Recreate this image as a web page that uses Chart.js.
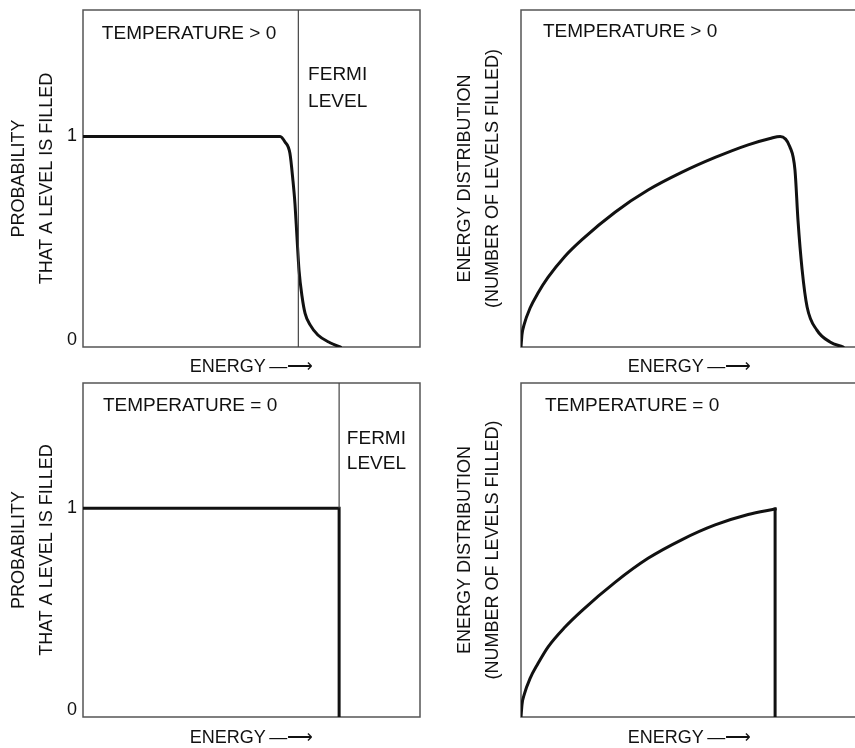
<!DOCTYPE html>
<html>
<head>
<meta charset="utf-8">
<script src="https://cdn.jsdelivr.net/npm/chart.js@4/dist/chart.umd.min.js"></script>
<style>
  html, body { margin: 0; padding: 0; background: #fff; width: 855px; height: 748px; overflow: hidden; position: relative; }
  canvas { position: absolute; }
</style>
</head>
<body>
<canvas id="tl" width="430" height="380" style="left:0;top:0"></canvas>
<canvas id="tr" width="430" height="380" style="left:430px;top:0"></canvas>
<canvas id="bl" width="430" height="375" style="left:0;top:373px"></canvas>
<canvas id="br" width="430" height="375" style="left:430px;top:373px"></canvas>
<script>
// ---------------- data ----------------
// Top-left: probability that a level is filled, temperature > 0
const tlEnergy = [0, 5.85, 5.99, 6.14, 6.23, 6.29, 6.35, 6.41, 6.50, 6.59, 6.74, 6.97, 7.33, 7.63];
const tlProb   = [1, 1, 0.975, 0.92, 0.79, 0.68, 0.52, 0.365, 0.24, 0.16, 0.105, 0.057, 0.02, 0];
const tlFermi  = 6.39;

// Top-right: energy distribution, temperature > 0
const trEnergy = [0, 0.03, 0.09, 0.27, 0.5, 0.80, 1.30, 1.81, 2.79, 3.77, 4.78, 5.76, 6.74, 7.39, 7.69, 7.98, 8.13, 8.22, 8.34, 8.49, 8.78, 9.17, 9.55];
const trLevels = [0, 0.06, 0.105, 0.185, 0.255, 0.33, 0.43, 0.51, 0.64, 0.745, 0.83, 0.90, 0.96, 0.99, 1.0, 0.95, 0.84, 0.60, 0.37, 0.19, 0.08, 0.024, 0];

// Bottom-left: probability, temperature = 0 (step)
const blEnergy = [0, 7.6, 7.6];
const blProb   = [1, 1, 0];
const blFermi  = 7.6;

// Bottom-right: energy distribution, temperature = 0
const brEnergy = [0, 0.03, 0.09, 0.27, 0.5, 0.80, 1.30, 1.81, 2.79, 3.77, 4.78, 5.76, 6.74, 7.54];
const brLevels = [0, 0.06, 0.105, 0.185, 0.255, 0.335, 0.43, 0.51, 0.645, 0.76, 0.85, 0.92, 0.97, 0.996];
const brDropEnergy = [7.54, 7.54];
const brDropLevels = [0.996, 0];

// axis ticks and labels
const probTicks = [0, 1];
const energyRange = [0, 10];
const valueRange = [0, 1.6];
const xTitle = 'ENERGY\u2009\u2014\u27F6';
const probTitle = ['PROBABILITY', 'THAT A LEVEL IS FILLED'];
const distTitle = ['ENERGY DISTRIBUTION', '(NUMBER OF LEVELS FILLED)'];

// ---------------- helpers ----------------
const FONT = "'Liberation Sans', Arial, Helvetica, sans-serif";
const INK = '#111';
const pts = (xs, ys) => xs.map((x, i) => ({ x, y: ys[i] }));

const framePlugin = {
  id: 'frame',
  beforeDatasetsDraw(chart) {
    const { ctx, chartArea: a } = chart;
    ctx.save();
    ctx.strokeStyle = '#555';
    ctx.lineWidth = 1.5;
    ctx.strokeRect(a.left, a.top, a.right - a.left, a.bottom - a.top);
    ctx.restore();
  }
};
const notesPlugin = {
  id: 'notes',
  afterDatasetsDraw(chart, args, opts) {
    const { ctx, scales: { x, y } } = chart;
    ctx.save();
    ctx.font = '19px ' + FONT;
    ctx.fillStyle = INK;
    ctx.textAlign = 'left';
    ctx.textBaseline = 'alphabetic';
    (opts.items || []).forEach(it => ctx.fillText(it.text, x.getPixelForValue(it.x), y.getPixelForValue(it.y)));
    ctx.restore();
  }
};

function curve(data, mono) {
  return {
    data, borderColor: INK, borderWidth: 3, pointRadius: 0,
    cubicInterpolationMode: mono ? 'monotone' : 'default', tension: 0,
    borderJoinStyle: 'miter', borderCapStyle: 'square', fill: false
  };
}
function fermi(data) {
  return { data, borderColor: '#444', borderWidth: 1.2, pointRadius: 0, tension: 0, fill: false };
}

function makeChart(id, o) {
  return new Chart(document.getElementById(id), {
    type: 'line',
    data: { datasets: o.datasets },
    plugins: [framePlugin, notesPlugin],
    options: {
      responsive: false, animation: false, devicePixelRatio: 1,
      layout: { padding: o.padding },
      plugins: { legend: { display: false }, tooltip: { enabled: false }, notes: { items: o.notes } },
      scales: {
        x: {
          type: 'linear', min: energyRange[0], max: energyRange[1],
          grid: { display: false, drawTicks: false }, border: { display: false },
          ticks: { display: false },
          title: { display: true, text: xTitle, color: INK, font: { family: FONT, size: 18, lineHeight: 1.1 }, padding: { top: 0, bottom: o.xPadBottom } },
          afterFit: s => { s.height = o.xHeight; s.paddingLeft = 0; s.paddingRight = 0; }
        },
        y: {
          type: 'linear', min: valueRange[0], max: valueRange[1],
          grid: { display: false, drawTicks: false }, border: { display: false },
          afterBuildTicks: s => { s.ticks = probTicks.map(v => ({ value: v })); },
          ticks: {
            display: o.showTicks, color: INK, padding: 6,
            font: { family: FONT, size: 18, lineHeight: '14px' },
            callback: v => (v === 0 ? ['0', ''] : String(v))
          },
          title: { display: true, text: o.yTitle, color: INK, font: { family: FONT, size: 18, lineHeight: '28px' }, padding: { top: o.yPadTop, bottom: 0 } },
          afterFit: s => { s.width = o.yWidth; s.paddingTop = 0; s.paddingBottom = 0; }
        }
      }
    }
  });
}

// ---------------- the four panels ----------------
makeChart('tl', {
  datasets: [fermi(pts([tlFermi, tlFermi], valueRange)), curve(pts(tlEnergy, tlProb), true)],
  notes: [
    { text: 'TEMPERATURE > 0', x: 0.56, y: 1.46 },
    { text: 'FERMI', x: 6.68, y: 1.27 },
    { text: 'LEVEL', x: 6.68, y: 1.14 }
  ],
  padding: { left: 0, top: 10, right: 10, bottom: 0 },
  yTitle: probTitle, showTicks: true, yWidth: 83, yPadTop: 5, xHeight: 33, xPadBottom: 3
});

makeChart('tr', {
  datasets: [curve(pts(trEnergy, trLevels), true)],
  notes: [{ text: 'TEMPERATURE > 0', x: 0.65, y: 1.47 }],
  padding: { left: 0, top: 10, right: 2, bottom: 0 },
  yTitle: distTitle, showTicks: false, yWidth: 91, yPadTop: 21, xHeight: 33, xPadBottom: 3
});

makeChart('bl', {
  datasets: [fermi(pts([blFermi, blFermi], [1, valueRange[1]])), curve(pts(blEnergy, blProb), false)],
  notes: [
    { text: 'TEMPERATURE = 0', x: 0.59, y: 1.466 },
    { text: 'FERMI', x: 7.83, y: 1.31 },
    { text: 'LEVEL', x: 7.83, y: 1.19 }
  ],
  padding: { left: 0, top: 10, right: 10, bottom: 0 },
  yTitle: probTitle, showTicks: true, yWidth: 83, yPadTop: 5, xHeight: 31, xPadBottom: 0
});

makeChart('br', {
  datasets: [curve(pts(brEnergy, brLevels), true), curve(pts(brDropEnergy, brDropLevels), false)],
  notes: [{ text: 'TEMPERATURE = 0', x: 0.71, y: 1.466 }],
  padding: { left: 0, top: 10, right: 2, bottom: 0 },
  yTitle: distTitle, showTicks: false, yWidth: 91, yPadTop: 21, xHeight: 31, xPadBottom: 0
});
</script>
</body>
</html>
